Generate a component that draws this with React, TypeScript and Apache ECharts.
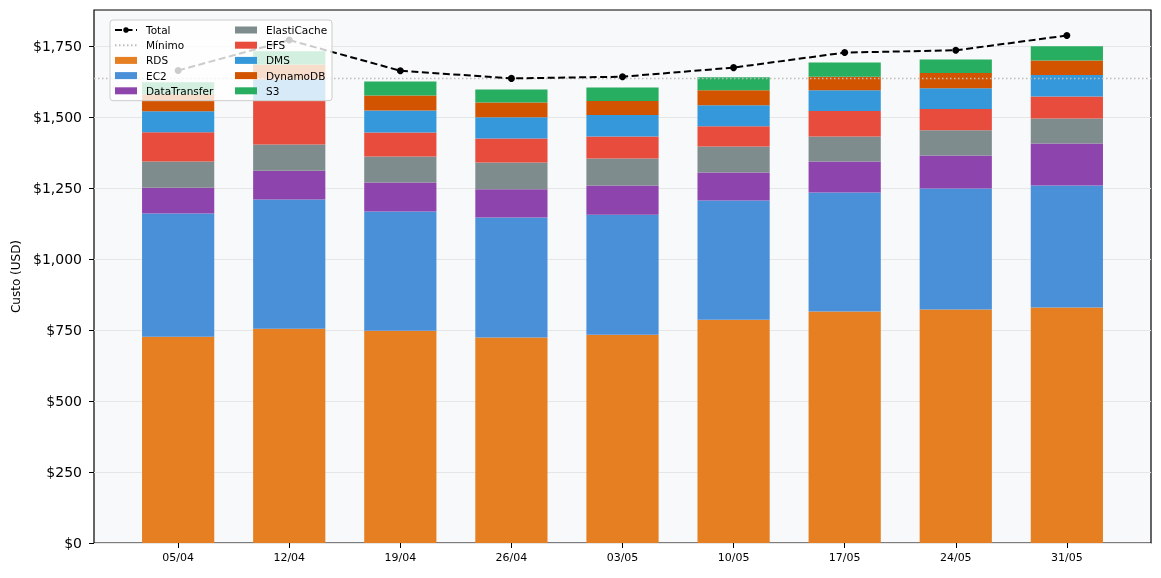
import React, { useEffect, useRef } from "react";
import * as echarts from "echarts";

const categories = ["05/04", "12/04", "19/04", "26/04", "03/05", "10/05", "17/05", "24/05", "31/05"];
const rds = [727, 755, 748, 724, 734, 787, 816, 823, 830];
const ec2 = [434, 455, 420, 423, 423, 420, 419, 426, 430];
const dataTransfer = [91, 102, 102, 99, 103, 98, 109, 116, 148];
const elastiCache = [92, 92, 92, 95, 95, 92, 88, 89, 88];
const efs = [103, 155, 84, 84, 77, 71, 90, 75, 77];
const dms = [74, 74, 78, 75, 76, 74, 73, 73, 76];
const dynamoDB = [60, 53, 53, 52, 49, 53, 48, 54, 51];
const s3 = [42, 47, 49, 46, 48, 46, 50, 48, 50];
const total = [1665, 1772, 1664, 1637, 1643, 1675, 1728, 1736, 1788];
const minimo = 1637;
const yTicks = [0, 250, 500, 750, 1000, 1250, 1500, 1750];
const yMax = 1878;

const barSeries = [
  { name: "RDS", data: rds, color: "#e67e22" },
  { name: "EC2", data: ec2, color: "#4a90d9" },
  { name: "DataTransfer", data: dataTransfer, color: "#8e44ad" },
  { name: "ElastiCache", data: elastiCache, color: "#7f8c8d" },
  { name: "EFS", data: efs, color: "#e74c3c" },
  { name: "DMS", data: dms, color: "#3498db" },
  { name: "DynamoDB", data: dynamoDB, color: "#d35400" },
  { name: "S3", data: s3, color: "#27ae60" },
];

const fmt = (v: number) => "$" + v.toLocaleString("en-US");

export default function App() {
  const ref = useRef<HTMLDivElement>(null);
  useEffect(() => {
    if (!ref.current) return;
    const chart = echarts.init(ref.current, undefined, { renderer: "svg" });
    const legendText = { fontSize: 10.5, lineHeight: 11, color: "#000", padding: [0, 0, 0, 4] };
    const legendCommon = {
      orient: "vertical",
      top: 24.5,
      itemWidth: 22,
      itemHeight: 7,
      itemGap: 4.2,
      padding: 0,
      textStyle: legendText,
      z: 11,
      selectedMode: false,
    };
    const option: any = {
      animation: false,
      textStyle: { fontFamily: "DejaVu Sans" },
      grid: [
        { left: 94, top: 10, right: 10, bottom: 35, show: true, backgroundColor: "#f8f9fa", borderColor: "#000", borderWidth: 1.2 },
        { left: 122.6, right: 38.6, top: 10, bottom: 35 },
      ],
      xAxis: [
        { type: "value", gridIndex: 0, min: 0, max: 1, show: false },
        {
          type: "category",
          gridIndex: 1,
          data: categories,
          axisLine: { show: false },
          axisTick: { show: true, alignWithLabel: true, length: 5, lineStyle: { color: "#000" } },
          axisLabel: { fontSize: 11, color: "#000", margin: 9 },
          splitLine: { show: false },
        },
      ],
      yAxis: [
        {
          type: "value",
          gridIndex: 0,
          min: 0,
          max: yMax,
          axisLine: { show: false },
          axisTick: { show: true, length: 5, lineStyle: { color: "#000" }, customValues: yTicks },
          axisLabel: { fontSize: 14, color: "#000", margin: 12, formatter: fmt, customValues: yTicks },
          splitLine: { show: true, lineStyle: { color: "#e6e6e6", width: 1 } },
          name: "Custo (USD)",
          nameLocation: "middle",
          nameGap: 71,
          nameTextStyle: { fontSize: 12, color: "#000" },
        },
        { type: "value", gridIndex: 1, min: 0, max: yMax, show: false },
      ],
      legend: [
        {
          ...legendCommon,
          left: 114,
          data: [
            { name: "Total" },
            { name: "Mínimo", itemStyle: { opacity: 0 } },
            { name: "RDS", icon: "rect" },
            { name: "EC2", icon: "rect" },
            { name: "DataTransfer", icon: "rect" },
          ],
        },
        {
          ...legendCommon,
          left: 235,
          data: ["ElastiCache", "EFS", "DMS", "DynamoDB", "S3"].map((n) => ({ name: n, icon: "rect" })),
        },
      ],
      graphic: [
        {
          type: "rect",
          z: 10,
          shape: { x: 110, y: 20, width: 222, height: 80.7, r: 3 },
          style: { fill: "rgba(255,255,255,0.8)", stroke: "#cccccc", lineWidth: 1 },
        },
      ],
      series: [
        ...barSeries.map((b) => ({
          type: "bar",
          name: b.name,
          data: b.data,
          stack: "total",
          xAxisIndex: 1,
          yAxisIndex: 1,
          barWidth: "65%",
          itemStyle: { color: b.color },
          z: 2,
        })),
        {
          type: "line",
          name: "Mínimo",
          xAxisIndex: 0,
          yAxisIndex: 0,
          data: [
            [0, minimo],
            [1, minimo],
          ],
          symbol: "none",
          lineStyle: { color: "#bdbdbd", width: 1.5, type: [1.5, 2.5] },
          itemStyle: { color: "#bdbdbd" },
          z: 3,
        },
        {
          type: "line",
          name: "Total",
          xAxisIndex: 1,
          yAxisIndex: 1,
          data: total,
          symbol: "circle",
          symbolSize: 7,
          lineStyle: { color: "#000", width: 2, type: [7, 3.5] },
          itemStyle: { color: "#000" },
          z: 4,
        },
      ],
    };
    chart.setOption(option);
    return () => chart.dispose();
  }, []);
  return <div ref={ref} style={{ position: "fixed", left: 0, top: 0, width: 1161, height: 578 }} />;
}
